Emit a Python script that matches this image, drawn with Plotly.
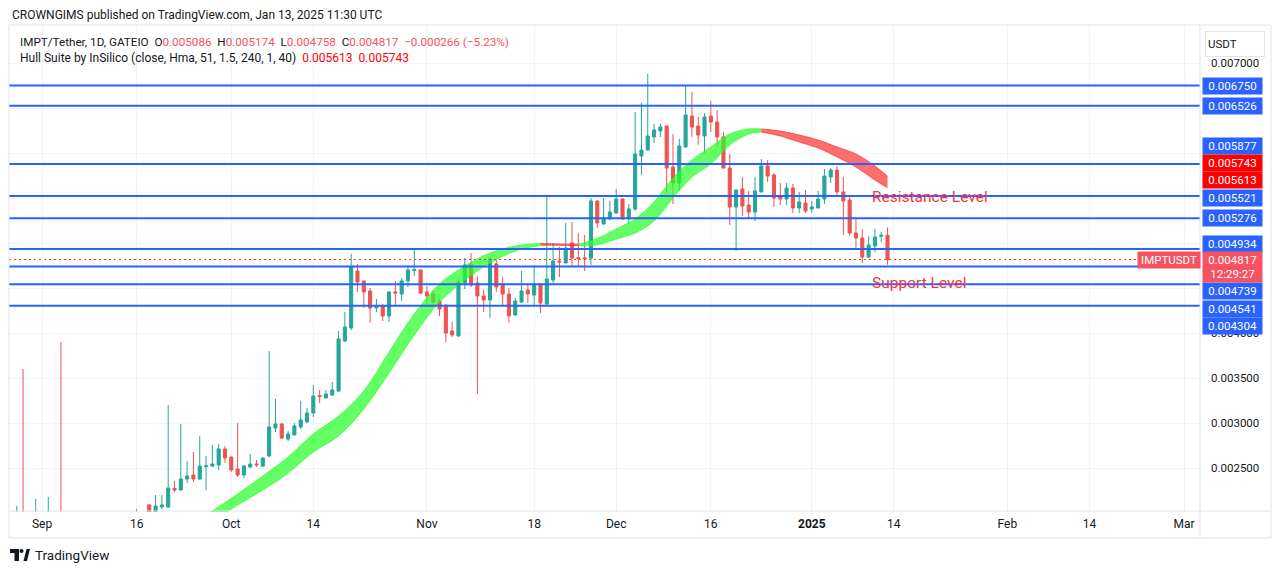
import plotly.graph_objects as go
import pandas as pd

# ---------------- data ----------------
start_date = "2024-08-27"   # one daily candle per day from here to 2025-01-13

opens = [
    # Aug 27-31
    0.00190, 0.00180, 0.00190, 0.00178, 0.00182,
    # Sep
    0.00189, 0.00184, 0.00192, 0.00188, 0.00176, 0.00182, 0.00178, 0.00184, 0.00180, 0.00186,
    0.00183, 0.00179, 0.00185, 0.00190, 0.00187, 0.00186, 0.00193, 0.00209, 0.00195, 0.002067,
    0.002067, 0.002272, 0.002256, 0.002378, 0.002422, 0.002378, 0.002515, 0.002522, 0.002533, 0.002711,
    # Oct
    0.002622, 0.002489, 0.002422, 0.002511, 0.002545, 0.002522, 0.002633, 0.002944, 0.002989, 0.002822,
    0.002867, 0.002956, 0.003011, 0.003111, 0.003305, 0.003278, 0.003311, 0.003356, 0.003911, 0.004056,
    0.004689, 0.004578, 0.004467, 0.004280, 0.004300, 0.004189, 0.004456, 0.004433, 0.004578, 0.004695,
    0.004700,
    # Nov
    0.004456, 0.004433, 0.004356, 0.004311, 0.004022, 0.003967, 0.004556, 0.004767, 0.004556, 0.004411,
    0.004367, 0.004767, 0.004544, 0.004433, 0.004200, 0.004344, 0.004478, 0.004422, 0.004544, 0.004322,
    0.004589, 0.004800, 0.004778, 0.005000, 0.004838, 0.004835, 0.004833, 0.005467, 0.005211, 0.005267,
    # Dec
    0.005333, 0.005489, 0.005267, 0.005378, 0.005967, 0.006033, 0.006178, 0.006244, 0.006300, 0.005844,
    0.005667, 0.006067, 0.006411, 0.006300, 0.006189, 0.006411, 0.006344, 0.006178, 0.005833, 0.005400,
    0.005600, 0.005422, 0.005344, 0.005567, 0.005856, 0.005756, 0.005511, 0.005489, 0.005611, 0.005389,
    0.005444,
    # Jan 1-13
    0.005378, 0.005389, 0.005489, 0.005733, 0.005811, 0.005567, 0.005478, 0.005111, 0.005056, 0.004844,
    0.004967, 0.005075, 0.005086,
]
highs = [
    0.00196, 0.002078, 0.00360, 0.00192, 0.002156,
    0.00198, 0.002178, 0.00199, 0.00390, 0.00188, 0.00190, 0.00186, 0.00192, 0.00189, 0.00195,
    0.00190, 0.00188, 0.00194, 0.00197, 0.00195, 0.002045, 0.00199, 0.00210, 0.00220, 0.00220,
    0.00320, 0.002356, 0.002989, 0.002578, 0.002678, 0.002856, 0.002633, 0.002756, 0.002767, 0.002744,
    0.002625, 0.003000, 0.002533, 0.002656, 0.002589, 0.002615, 0.003800, 0.003267, 0.003000, 0.002911,
    0.003000, 0.003244, 0.003167, 0.003422, 0.003367, 0.003367, 0.003456, 0.004022, 0.004233, 0.004878,
    0.004767, 0.004580, 0.004500, 0.004378, 0.004322, 0.004460, 0.004578, 0.004611, 0.004756, 0.004933,
    0.004705,
    0.004522, 0.004478, 0.004378, 0.004315, 0.004122, 0.004600, 0.004833, 0.004889, 0.004633, 0.004478,
    0.004844, 0.004822, 0.004622, 0.004500, 0.004389, 0.004689, 0.004556, 0.004756, 0.004550, 0.005511,
    0.005000, 0.004956, 0.005222, 0.005233, 0.005111, 0.005089, 0.005500, 0.005478, 0.005500, 0.005467,
    0.005600, 0.005495, 0.005433, 0.006456, 0.006556, 0.006878, 0.006322, 0.006322, 0.006305, 0.006211,
    0.006156, 0.006744, 0.006678, 0.006400, 0.006444, 0.006578, 0.006478, 0.006233, 0.005989, 0.005595,
    0.005733, 0.005578, 0.005733, 0.005933, 0.005922, 0.005778, 0.005667, 0.005667, 0.005656, 0.005567,
    0.005589,
    0.005467, 0.005578, 0.005822, 0.005833, 0.005856, 0.005733, 0.005511, 0.005278, 0.005156, 0.005078,
    0.005156, 0.005122, 0.005174,
]
lows = [
    0.00184, 0.00175, 0.00172, 0.00170, 0.00178,
    0.00180, 0.00180, 0.00185, 0.00170, 0.00168, 0.00175, 0.00172, 0.00178, 0.00174, 0.00181,
    0.00176, 0.00174, 0.00180, 0.00184, 0.00182, 0.00181, 0.00187, 0.00185, 0.00190, 0.002044,
    0.002056, 0.002233, 0.002250, 0.002333, 0.002344, 0.002370, 0.002256, 0.002511, 0.002478, 0.002556,
    0.002456, 0.002400, 0.002389, 0.002500, 0.002511, 0.002511, 0.002622, 0.002900, 0.002822, 0.002800,
    0.002867, 0.002933, 0.003000, 0.003067, 0.003222, 0.003278, 0.003300, 0.003344, 0.003900, 0.004033,
    0.004456, 0.004278, 0.004111, 0.004233, 0.004133, 0.004122, 0.004311, 0.004356, 0.004511, 0.004633,
    0.004433,
    0.004322, 0.004311, 0.004189, 0.003900, 0.003956, 0.003960, 0.004489, 0.004511, 0.003322, 0.004233,
    0.004167, 0.004456, 0.004311, 0.004111, 0.004195, 0.004333, 0.004333, 0.004300, 0.004222, 0.004300,
    0.004556, 0.004622, 0.004775, 0.004733, 0.004733, 0.004689, 0.004756, 0.005167, 0.005205, 0.005256,
    0.005330, 0.005256, 0.005211, 0.005356, 0.005756, 0.006030, 0.006111, 0.006178, 0.005556, 0.005433,
    0.005578, 0.006060, 0.006178, 0.006089, 0.006000, 0.006233, 0.006067, 0.005828, 0.005200, 0.004911,
    0.005300, 0.005278, 0.005244, 0.005560, 0.005678, 0.005400, 0.005422, 0.005422, 0.005333, 0.005333,
    0.005333,
    0.005333, 0.005385, 0.005433, 0.005667, 0.005511, 0.005089, 0.005078, 0.004922, 0.004778, 0.004833,
    0.004900, 0.005011, 0.004758,
]
closes = [
    0.00188, 0.00190, 0.00178, 0.00185, 0.00189,
    0.00184, 0.00192, 0.00188, 0.00176, 0.00182, 0.00178, 0.00184, 0.00180, 0.00186, 0.00183,
    0.00179, 0.00185, 0.00190, 0.00187, 0.00186, 0.00193, 0.00190, 0.00190, 0.002078, 0.002089,
    0.002278, 0.002256, 0.002378, 0.002411, 0.002378, 0.002522, 0.002525, 0.002544, 0.002711, 0.002611,
    0.002478, 0.002422, 0.002522, 0.002544, 0.002535, 0.002611, 0.002956, 0.002989, 0.002833, 0.002878,
    0.002967, 0.003033, 0.003111, 0.003300, 0.003295, 0.003322, 0.003367, 0.003933, 0.004067, 0.004733,
    0.004567, 0.004456, 0.004278, 0.004290, 0.004189, 0.004456, 0.004444, 0.004578, 0.004700, 0.004705,
    0.004444,
    0.004411, 0.004344, 0.004267, 0.004000, 0.003978, 0.004567, 0.004756, 0.004533, 0.004411, 0.004367,
    0.004822, 0.004511, 0.004433, 0.004189, 0.004356, 0.004467, 0.004433, 0.004544, 0.004333, 0.004600,
    0.004800, 0.004789, 0.004944, 0.004833, 0.004828, 0.004825, 0.005467, 0.005222, 0.005278, 0.005344,
    0.005489, 0.005267, 0.005378, 0.005989, 0.006033, 0.006189, 0.006256, 0.006289, 0.005833, 0.005667,
    0.006078, 0.006422, 0.006289, 0.006200, 0.006400, 0.006344, 0.006178, 0.005833, 0.005400, 0.005589,
    0.005411, 0.005344, 0.005578, 0.005856, 0.005744, 0.005500, 0.005489, 0.005611, 0.005389, 0.005456,
    0.005356,
    0.005400, 0.005489, 0.005744, 0.005811, 0.005567, 0.005467, 0.005111, 0.005056, 0.004844, 0.004978,
    0.005067, 0.005086, 0.004817,
]

# Hull Suite band (two edges), rising (green) and falling (red) stretches
hull_g1_dates = ["2024-09-24", "2024-09-28", "2024-10-02", "2024-10-06", "2024-10-10", "2024-10-14",
                 "2024-10-18", "2024-10-22", "2024-10-26", "2024-10-30", "2024-11-03", "2024-11-07",
                 "2024-11-11", "2024-11-15", "2024-11-19"]
hull_g1_upper = [0.001844, 0.002022, 0.002211, 0.002411, 0.002622, 0.002878, 0.003078, 0.003356,
                 0.003789, 0.004211, 0.004544, 0.004744, 0.004889, 0.004967, 0.004995]
hull_g1_lower = [0.001733, 0.001911, 0.002089, 0.002256, 0.002444, 0.002678, 0.002856, 0.003156,
                 0.003556, 0.003978, 0.004344, 0.004589, 0.004778, 0.004911, 0.004975]
hull_r1_dates = ["2024-11-19", "2024-11-22", "2024-11-25"]
hull_r1_upper = [0.004995, 0.004990, 0.004985]
hull_r1_lower = [0.004975, 0.004975, 0.004970]
hull_g2_dates = ["2024-11-25", "2024-11-28", "2024-12-01", "2024-12-04", "2024-12-07", "2024-12-10",
                 "2024-12-13", "2024-12-16", "2024-12-19", "2024-12-22", "2024-12-24"]
hull_g2_upper = [0.004985, 0.005050, 0.005156, 0.005267, 0.005456, 0.005722, 0.005922, 0.006067,
                 0.006211, 0.006267, 0.006267]
hull_g2_lower = [0.004970, 0.004980, 0.005044, 0.005111, 0.005244, 0.005500, 0.005733, 0.005878,
                 0.006089, 0.006211, 0.006233]
hull_r2_dates = ["2024-12-24", "2024-12-27", "2024-12-30", "2025-01-02", "2025-01-05", "2025-01-08",
                 "2025-01-11", "2025-01-13"]
hull_r2_upper = [0.006267, 0.006244, 0.006200, 0.006144, 0.006067, 0.005989, 0.005856, 0.005743]
hull_r2_lower = [0.006233, 0.006189, 0.006122, 0.006056, 0.005956, 0.005844, 0.005700, 0.005613]

levels = [0.006750, 0.006526, 0.005877, 0.005521, 0.005276, 0.004934, 0.004739, 0.004541, 0.004304]
hull_last = [0.005743, 0.005613]
last_close = 0.004817
countdown = "12:29:27"
resistance_level = 0.005521
support_level = 0.004541

x_tick_dates = ["2024-09-01", "2024-09-16", "2024-10-01", "2024-10-14", "2024-11-01", "2024-11-18",
                "2024-12-01", "2024-12-16", "2025-01-01", "2025-01-14", "2025-02-01", "2025-02-14",
                "2025-03-01"]
x_tick_text = ["Sep", "16", "Oct", "14", "Nov", "18", "Dec", "16", "<b>2025</b>", "14", "Feb", "14", "Mar"]
y_tick_vals = [0.0025, 0.0030, 0.0035, 0.0040, 0.0045, 0.0050, 0.0055, 0.0060, 0.0065, 0.0070]
# tick labels hidden behind the price-label boxes in the original are left blank
y_tick_text = ["0.002500", "0.003000", "0.003500", "0.004000", "", "", "", "", "", "0.007000"]

assert len(opens) == len(highs) == len(lows) == len(closes) == 140
dates = pd.date_range(start_date, periods=len(opens), freq="D")

# ---------------- styling / layout ----------------
W, H = 1281, 573
ML, MR, MT, MB = 9, 81, 25, 61
PW, PH = W - ML - MR, H - MT - MB
FONT = "Roboto, 'Noto Sans', sans-serif"
DARK = "#131722"
UP, DOWN = "#26a69a", "#ef5350"
BLUE = "#2962ff"


def px_x(px):
    return (px - ML) / PW


def px_y(py):
    return (H - MB - py) / PH


fig = go.Figure()


def add_band(d, lo, hi, color):
    fig.add_trace(go.Scatter(x=d, y=lo, mode="lines", line=dict(color=color, width=1, shape="spline"),
                             hoverinfo="skip", showlegend=False))
    fig.add_trace(go.Scatter(x=d, y=hi, mode="lines", line=dict(color=color, width=1, shape="spline"),
                             fill="tonexty", fillcolor=color, hoverinfo="skip", showlegend=False))


GREEN_B = "rgba(40,255,40,0.72)"
RED_B = "rgba(255,40,40,0.68)"
add_band(hull_g1_dates, hull_g1_lower, hull_g1_upper, GREEN_B)
add_band(hull_r1_dates, hull_r1_lower, hull_r1_upper, RED_B)
add_band(hull_g2_dates, hull_g2_lower, hull_g2_upper, GREEN_B)
add_band(hull_r2_dates, hull_r2_lower, hull_r2_upper, RED_B)

fig.add_trace(go.Candlestick(
    x=dates, open=opens, high=highs, low=lows, close=closes,
    increasing=dict(line=dict(color=UP, width=1), fillcolor=UP),
    decreasing=dict(line=dict(color=DOWN, width=1), fillcolor=DOWN),
    whiskerwidth=0, showlegend=False, hoverinfo="skip"))

shapes = []
for lv in levels:
    shapes.append(dict(type="line", xref="paper", x0=0, x1=1, yref="y", y0=lv, y1=lv,
                       line=dict(color=BLUE, width=2), layer="above"))
shapes.append(dict(type="line", xref="paper", x0=0, x1=1, yref="y", y0=last_close, y1=last_close,
                   line=dict(color="#f23645", width=1, dash="2px,3px"), layer="above"))
# chart frame, axis separators
BORDER = "#e0e3eb"
shapes += [
    dict(type="rect", xref="paper", yref="paper", x0=px_x(9), x1=px_x(1271), y0=px_y(538), y1=px_y(25),
         line=dict(color=BORDER, width=1)),
    dict(type="line", xref="paper", yref="paper", x0=px_x(1200), x1=px_x(1200), y0=px_y(538), y1=px_y(25),
         line=dict(color=BORDER, width=1)),
    dict(type="line", xref="paper", yref="paper", x0=px_x(9), x1=px_x(1271), y0=px_y(511), y1=px_y(511),
         line=dict(color=BORDER, width=1)),
]
# TradingView logo
shapes += [
    dict(type="rect", xref="paper", yref="paper", x0=px_x(10), x1=px_x(19), y0=px_y(553), y1=px_y(549),
         fillcolor=DARK, line=dict(width=0)),
    dict(type="rect", xref="paper", yref="paper", x0=px_x(14.5), x1=px_x(19), y0=px_y(561), y1=px_y(549),
         fillcolor=DARK, line=dict(width=0)),
    dict(type="circle", xref="paper", yref="paper", x0=px_x(19.5), x1=px_x(23.5), y0=px_y(553), y1=px_y(549),
         fillcolor=DARK, line=dict(width=0)),
    dict(type="path", xref="paper", yref="paper",
         path=f"M {px_x(23.5)},{px_y(561)} L {px_x(27)},{px_y(561)} L {px_x(30)},{px_y(549)} L {px_x(26.5)},{px_y(549)} Z",
         fillcolor=DARK, line=dict(width=0)),
]

ann = []
LAB_W = 57


def price_label(price, text, bg, shift, height=14):
    ann.append(dict(xref="paper", x=1, xanchor="left", xshift=2, yref="y", y=price, yanchor="middle",
                    yshift=shift, text=text, showarrow=False, bgcolor=bg, width=LAB_W, height=height,
                    borderpad=1, align="center", font=dict(family=FONT, size=11.5, color="white")))


level_shift = {0.006750: 0, 0.006526: 0, 0.005877: 18, 0.005521: -2, 0.005276: 0, 0.004934: 5,
               0.004739: -24.5, 0.004541: -24.5, 0.004304: -20}
for lv in levels:
    price_label(lv, f"{lv:.6f}", BLUE, level_shift[lv])
price_label(hull_last[0], f"{hull_last[0]:.6f}", "#ff0000", 13)
price_label(hull_last[1], f"{hull_last[1]:.6f}", "#ff0000", 8)
price_label(last_close, f"{last_close:.6f}<br>{countdown}", "#f7525f", -8, height=28)
ann.append(dict(xref="paper", x=1, xanchor="right", xshift=1, yref="y", y=last_close, yanchor="middle",
                yshift=-1, text="IMPTUSDT", showarrow=False, bgcolor="#f7525f", width=60, height=14,
                borderpad=1, font=dict(family=FONT, size=11.5, color="white")))
# USDT currency box
ann.append(dict(xref="paper", x=1, xanchor="left", xshift=5, yref="paper", y=1, yanchor="top", yshift=-6,
                text="USDT", showarrow=False, bgcolor="white", bordercolor=BORDER, borderwidth=1,
                width=54, height=20, borderpad=2, align="left",
                font=dict(family=FONT, size=11.5, color=DARK)))

NB = "\u00a0"
red_v = "#f7525f"
line1 = (f"IMPT/Tether, 1D, GATEIO{NB}{NB}O<span style='color:{red_v}'>0.005086</span>{NB}{NB}"
         f"H<span style='color:{red_v}'>0.005174</span>{NB}{NB}L<span style='color:{red_v}'>0.004758</span>{NB}{NB}"
         f"C<span style='color:{red_v}'>0.004817</span>{NB}{NB}<span style='color:{red_v}'>\u22120.000266 (\u22125.23%)</span>")
line2 = (f"Hull Suite by InSilico (close, Hma, 51, 1.5, 240, 1, 40){NB}{NB}"
         f"<span style='color:#ff0000'>0.005613</span>{NB}{NB}<span style='color:#ff0000'>0.005743</span>")
ann += [
    dict(xref="paper", x=0, xanchor="left", xshift=1, yref="paper", y=1, yanchor="middle", yshift=10,
         text="CROWNGIMS published on TradingView.com, Jan 13, 2025 11:30 UTC", showarrow=False,
         font=dict(family=FONT, size=12, color=DARK)),
    dict(xref="paper", x=0, xanchor="left", xshift=9, yref="paper", y=1, yanchor="middle", yshift=-17,
         text=line1, showarrow=False, font=dict(family=FONT, size=11.7, color=DARK)),
    dict(xref="paper", x=0, xanchor="left", xshift=9, yref="paper", y=1, yanchor="middle", yshift=-33,
         text=line2, showarrow=False, font=dict(family=FONT, size=12, color=DARK)),
    dict(xref="x", x="2025-01-10", xanchor="left", xshift=1, yref="y", y=resistance_level,
         yanchor="middle", yshift=-1, text="Resistance Level", showarrow=False,
         font=dict(family=FONT, size=15.5, color="#f23645")),
    dict(xref="x", x="2025-01-10", xanchor="left", xshift=1, yref="y", y=support_level,
         yanchor="middle", yshift=1, text="Support Level", showarrow=False,
         font=dict(family=FONT, size=15.5, color="#f23645")),
    dict(xref="paper", x=px_x(33), xanchor="left", yref="paper", y=px_y(555), yanchor="middle",
         text="TradingView", showarrow=False, font=dict(family=FONT, size=13.5, color=DARK)),
]

fig.update_layout(
    width=W, height=H, margin=dict(l=ML, r=MR, t=MT, b=MB),
    paper_bgcolor="white", plot_bgcolor="white", showlegend=False, hovermode=False,
    shapes=shapes, annotations=ann,
    xaxis=dict(type="date", range=["2024-08-26 18:30", "2025-03-03 12:30"], rangeslider=dict(visible=False),
               tickvals=x_tick_dates, ticktext=x_tick_text, showgrid=True, gridcolor="#f0f3fa",
               zeroline=False, showline=False, ticks="", ticklabelstandoff=3,
               tickfont=dict(family=FONT, size=12, color=DARK), fixedrange=True),
    yaxis=dict(side="right", range=[0.0020111, 0.0074222], tickvals=y_tick_vals, ticktext=y_tick_text,
               showgrid=True, gridcolor="#f0f3fa", zeroline=False, showline=False, ticks="",
               ticklabelstandoff=10, tickfont=dict(family=FONT, size=11.5, color=DARK), fixedrange=True),
)

fig.write_html("out.html", config={"displayModeBar": False})
